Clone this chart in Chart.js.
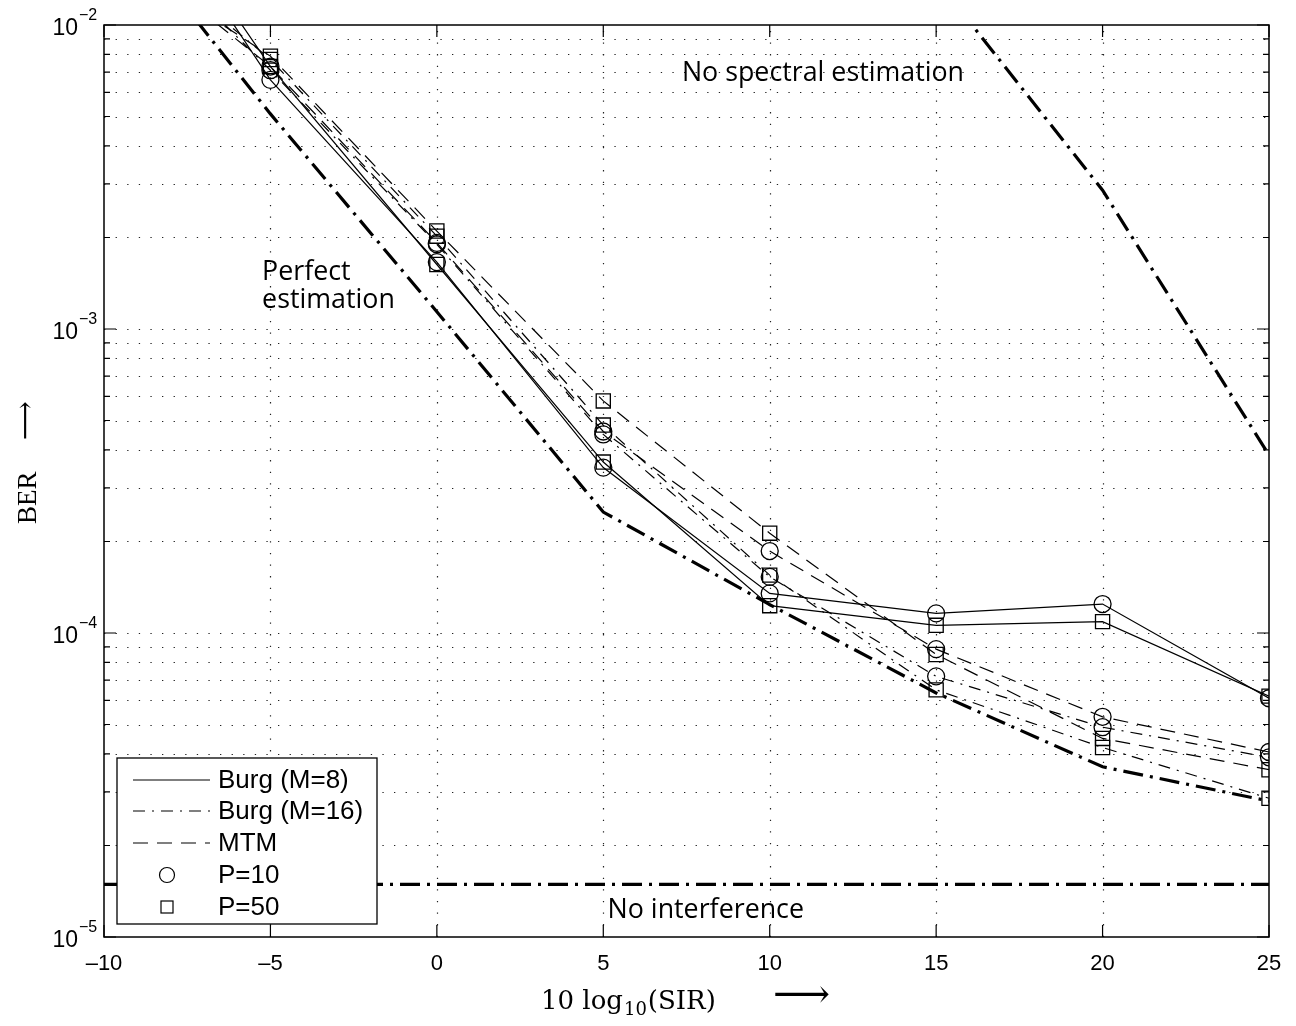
<!DOCTYPE html>
<html>
<head>
<meta charset="utf-8">
<script src="https://cdn.jsdelivr.net/npm/chart.js@4.4.0/dist/chart.umd.min.js"></script>
<style>
  body { margin: 0; background: #fff; }
  canvas { display: block; }
</style>
</head>
<body>
<canvas id="grafico" width="1296" height="1026"></canvas>
<script>
// eixo X: 10 log10(SIR) em dB
var sir = [-10, -5, 0, 5, 10, 15, 20, 25];

// BER - Burg (M=8)
var burg8P10 = [4.4e-2, 6.6e-3, 1.66e-3, 3.5e-4, 1.35e-4, 1.16e-4, 1.245e-4, 6.1e-5];
var burg8P50 = [4.6e-2, 7.3e-3, 1.63e-3, 3.65e-4, 1.23e-4, 1.06e-4, 1.09e-4, 6.2e-5];
// BER - Burg (M=16)
var burg16P10 = [2.5e-2, 7.1e-3, 1.9e-3, 4.5e-4, 1.53e-4, 7.2e-5, 4.9e-5, 3.9e-5];
var burg16P50 = [2.2e-2, 7.7e-3, 2.02e-3, 4.83e-4, 1.55e-4, 6.5e-5, 4.2e-5, 2.86e-5];
// BER - MTM
var mtmP10 = [2.0e-2, 7.3e-3, 1.92e-3, 4.6e-4, 1.86e-4, 8.85e-5, 5.3e-5, 4.06e-5];
var mtmP50 = [1.8e-2, 7.9e-3, 2.1e-3, 5.8e-4, 2.13e-4, 8.5e-5, 4.5e-5, 3.55e-5];

// curvas de referencia
var perfeita = [2.5e-2, 5.1e-3, 1.14e-3, 2.5e-4, 1.24e-4, 6.35e-5, 3.63e-5, 2.8e-5];
var semEspectralX = [15, 20, 25];
var semEspectral = [1.41e-2, 2.86e-3, 3.85e-4];
var semInterfX = [-10, 25];
var semInterf = [1.49e-5, 1.49e-5];

// marcas dos eixos
var xTicks = [-10, -5, 0, 5, 10, 15, 20, 25];
var yDecadas = [1e-5, 1e-4, 1e-3, 1e-2];
var yExpoentes = ['\u22125', '\u22124', '\u22123', '\u22122'];

var SOLIDO = [];
var TRACO_PONTO = [12, 7, 2, 7];
var TRACEJADO = [15, 9];
var GROSSO = [20, 7, 3, 7];

function pontos(xs, ys) {
    return xs.map(function (x, i) { return {x: x, y: ys[i]}; });
}

function serie(label, ys, dash, marker) {
    return {
        label: label,
        data: pontos(sir, ys),
        borderColor: '#000',
        borderWidth: 1.2,
        borderDash: dash,
        pointStyle: marker,
        pointRadius: marker === 'circle' ? 8.5 : 10,
        pointBorderColor: '#000',
        pointBackgroundColor: 'rgba(0,0,0,0)',
        pointBorderWidth: 1.3,
        fill: false,
        tension: 0
    };
}

function referencia(label, xs, ys) {
    return {
        label: label,
        data: pontos(xs, ys),
        borderColor: '#000',
        borderWidth: 3.2,
        borderDash: GROSSO,
        pointRadius: 0,
        fill: false,
        tension: 0
    };
}

var SANS = '"Liberation Sans", Arial, sans-serif';
var SERIF = '"DejaVu Serif", "Liberation Serif", serif';
var SERIF_Y = '"Liberation Serif", "DejaVu Serif", serif';
var ANOT = '"Open Sans", "DejaVu Sans", sans-serif';

// grade pontilhada, moldura, textos e legenda
var moldura = {
    id: 'moldura',
    beforeDatasetsDraw: function (chart) {
        var ctx = chart.ctx, a = chart.chartArea;
        var xs = chart.scales.x, ys = chart.scales.y;
        ctx.save();
        ctx.strokeStyle = '#222';
        ctx.lineWidth = 1.2;
        ctx.setLineDash([1.3, 10.3]);
        xTicks.forEach(function (v) {
            if (v <= xs.min || v >= xs.max) return;
            var px = Math.round(xs.getPixelForValue(v)) + 0.5;
            ctx.beginPath(); ctx.moveTo(px, a.bottom); ctx.lineTo(px, a.top); ctx.stroke();
        });
        for (var d = -5; d <= -3; d++) {
            for (var m = 1; m <= 9; m++) {
                var v = m * Math.pow(10, d);
                if (v <= 1e-5 * 1.0001 || v >= 1e-2 * 0.9999) continue;
                var py = Math.round(ys.getPixelForValue(v)) + 0.5;
                ctx.beginPath(); ctx.moveTo(a.left, py); ctx.lineTo(a.right, py); ctx.stroke();
            }
        }
        ctx.restore();
    },
    afterDatasetsDraw: function (chart) {
        var ctx = chart.ctx, a = chart.chartArea;
        var xs = chart.scales.x, ys = chart.scales.y;
        ctx.save();
        ctx.setLineDash([]);
        ctx.strokeStyle = '#000';
        ctx.lineWidth = 1.5;
        ctx.strokeRect(a.left, a.top, a.right - a.left, a.bottom - a.top);

        // marcas internas
        ctx.lineWidth = 1.2;
        xTicks.forEach(function (v) {
            var px = xs.getPixelForValue(v);
            ctx.beginPath();
            ctx.moveTo(px, a.bottom); ctx.lineTo(px, a.bottom - 12);
            ctx.moveTo(px, a.top); ctx.lineTo(px, a.top + 12);
            ctx.stroke();
        });
        for (var d = -5; d <= -2; d++) {
            for (var m = 1; m <= 9; m++) {
                var v = m * Math.pow(10, d);
                if (v > 1e-2 * 1.0001) continue;
                var py = ys.getPixelForValue(v);
                var len = m === 1 ? 12 : 6;
                ctx.beginPath();
                ctx.moveTo(a.left, py); ctx.lineTo(a.left + len, py);
                ctx.moveTo(a.right, py); ctx.lineTo(a.right - len, py);
                ctx.stroke();
            }
        }

        // rotulos do eixo Y (10^k)
        ctx.fillStyle = '#000';
        yDecadas.forEach(function (v, i) {
            var py = ys.getPixelForValue(v);
            ctx.font = '23px ' + SANS;
            ctx.textAlign = 'right';
            ctx.textBaseline = 'alphabetic';
            ctx.fillText('10', 78, py + 10);
            ctx.font = '16px ' + SANS;
            ctx.textAlign = 'left';
            ctx.fillText(yExpoentes[i], 79, py - 5);
        });

        // anotacoes
        ctx.font = '25px ' + ANOT;
        var w = ctx.measureText('No spectral estimation').width;
        var tam = 25 * 282 / w;
        ctx.font = tam.toFixed(1) + 'px ' + ANOT;
        ctx.textBaseline = 'middle';
        ctx.textAlign = 'center';
        ctx.fillText('No spectral estimation', xs.getPixelForValue(11.6), ys.getPixelForValue(6.95e-3));
        ctx.fillText('No interference', xs.getPixelForValue(8.08), ys.getPixelForValue(1.22e-5));
        ctx.textAlign = 'left';
        ctx.fillText('Perfect', xs.getPixelForValue(-5.25), ys.getPixelForValue(1.54e-3));
        ctx.fillText('estimation', xs.getPixelForValue(-5.25), ys.getPixelForValue(1.24e-3));

        // legenda
        var lx = 117, ly = 758, lw = 260, lh = 166;
        ctx.fillStyle = '#fff';
        ctx.fillRect(lx, ly, lw, lh);
        ctx.strokeStyle = '#000';
        ctx.lineWidth = 1.3;
        ctx.strokeRect(lx, ly, lw, lh);
        var itens = [
            {t: 'Burg (M=8)', dash: SOLIDO},
            {t: 'Burg (M=16)', dash: TRACO_PONTO},
            {t: 'MTM', dash: TRACEJADO},
            {t: 'P=10', marker: 'circle'},
            {t: 'P=50', marker: 'rect'}
        ];
        var linhas = [780, 811, 843, 875, 907];
        ctx.font = '26px ' + SANS;
        ctx.textAlign = 'left';
        ctx.textBaseline = 'middle';
        itens.forEach(function (it, i) {
            var y = linhas[i];
            ctx.strokeStyle = '#000';
            ctx.lineWidth = 1.2;
            if (it.dash) {
                ctx.setLineDash(it.dash);
                ctx.beginPath(); ctx.moveTo(133, y); ctx.lineTo(210, y); ctx.stroke();
                ctx.setLineDash([]);
            } else if (it.marker === 'circle') {
                ctx.beginPath(); ctx.arc(167, y, 7.5, 0, Math.PI * 2); ctx.stroke();
            } else {
                ctx.strokeRect(161, y - 6, 12, 12);
            }
            ctx.fillStyle = '#000';
            ctx.fillText(it.t, 218, y + 1);
        });

        // titulo eixo X
        ctx.textBaseline = 'alphabetic';
        ctx.textAlign = 'left';
        var bx = 541, by = 1009;
        ctx.font = '26px ' + SERIF;
        ctx.fillText('10 log', bx, by);
        bx += ctx.measureText('10 log').width + 1;
        ctx.font = '18px ' + SERIF;
        ctx.fillText('10', bx, by + 6);
        bx += ctx.measureText('10').width + 1;
        ctx.font = '26px ' + SERIF;
        ctx.fillText('(SIR)', bx, by);
        ctx.font = '28px ' + SERIF_Y;
        var wa = ctx.measureText('\u27F6').width;
        ctx.font = (28 * 57 / wa).toFixed(1) + 'px ' + SERIF_Y;
        ctx.fillText('\u27F6', 773, by - 2);

        // titulo eixo Y
        ctx.translate(36, 524);
        ctx.rotate(-Math.PI / 2);
        ctx.font = '27px ' + SERIF_Y;
        ctx.fillText('BER', 0, 0);
        ctx.fillText('\u27F6', 84, -2);
        ctx.restore();
    }
};

var grafico = new Chart(document.getElementById('grafico'), {
    type: 'line',
    data: {
        datasets: [
            referencia('No interference', semInterfX, semInterf),
            referencia('Perfect estimation', sir, perfeita),
            referencia('No spectral estimation', semEspectralX, semEspectral),
            serie('Burg (M=8), P=10', burg8P10, SOLIDO, 'circle'),
            serie('Burg (M=8), P=50', burg8P50, SOLIDO, 'rect'),
            serie('Burg (M=16), P=10', burg16P10, TRACO_PONTO, 'circle'),
            serie('Burg (M=16), P=50', burg16P50, TRACO_PONTO, 'rect'),
            serie('MTM, P=10', mtmP10, TRACEJADO, 'circle'),
            serie('MTM, P=50', mtmP50, TRACEJADO, 'rect')
        ]
    },
    options: {
        responsive: false,
        animation: false,
        events: [],
        layout: {padding: {top: 25, right: 27, left: 0, bottom: 0}},
        plugins: {legend: {display: false}, tooltip: {enabled: false}},
        scales: {
            x: {
                type: 'linear', min: -10, max: 25,
                grid: {display: false}, border: {display: false},
                ticks: {
                    stepSize: 5, padding: 6, color: '#000', maxRotation: 0, autoSkip: false,
                    font: {family: SANS, size: 22},
                    callback: function (v) { return v < 0 ? '\u2013' + Math.abs(v) : '' + v; }
                },
                afterFit: function (s) { s.height = 89; }
            },
            y: {
                type: 'logarithmic', min: 1e-5, max: 1e-2,
                grid: {display: false}, border: {display: false},
                ticks: {display: false},
                afterFit: function (s) { s.width = 104; }
            }
        }
    },
    plugins: [moldura]
});
</script>
</body>
</html>
